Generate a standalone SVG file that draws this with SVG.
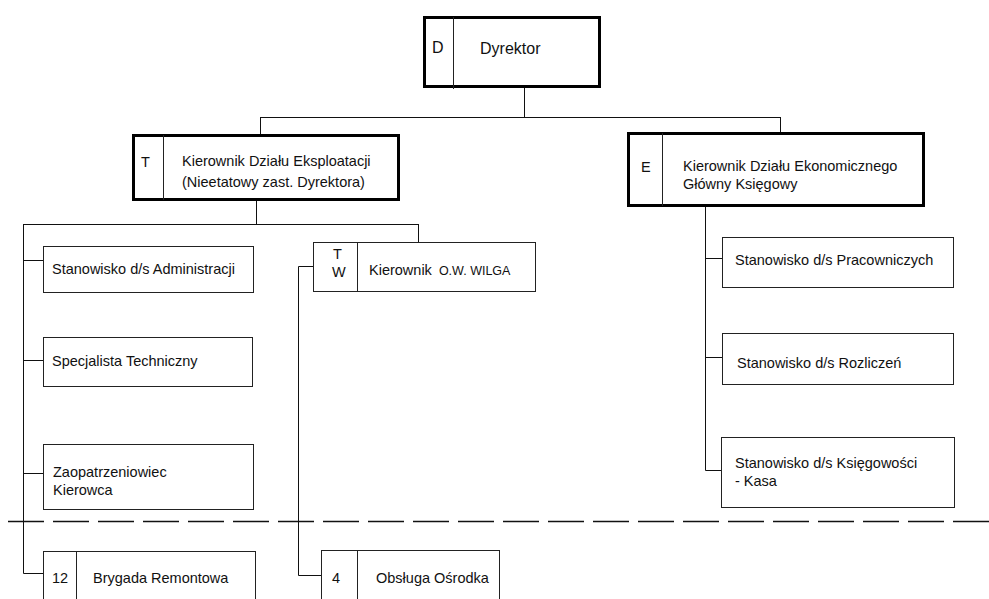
<svg xmlns="http://www.w3.org/2000/svg" width="989" height="599" viewBox="0 0 989 599">
<style>
text{font-family:"Liberation Sans",Arial,sans-serif;font-size:14.5px;fill:#111}
.big{font-size:16px}
.sm{font-size:12.5px}
.thick{fill:#fff;stroke:#000;stroke-width:3}
.thin{fill:#fff;stroke:#222;stroke-width:1}
.div{stroke:#222;stroke-width:1;fill:none}
.con{stroke:#111;stroke-width:1;fill:none}
.dash{stroke:#111;stroke-width:1.5;fill:none;stroke-dasharray:36 9}
</style>
<rect width="989" height="599" fill="#fff"/>
<g id="connectors">
<path class="con" d="M524.5,88 V117.5 M260,117.5 H780.5 M260.5,117 V134 M780.5,117 V132"/>
<path class="con" d="M256.5,201 V224.5 M23,224.5 H418.5 M418.5,224 V242"/>
<path class="con" d="M23.5,224 V573.5 H43 M23,260.5 H43 M23,360.5 H43 M23,473.5 H43"/>
<path class="con" d="M313,266.5 H298.5 V575.5 H321"/>
<path class="con" d="M705.5,207 V470.5 H721 M705,258.5 H722 M705,357.5 H722"/>
<path class="dash" d="M8,521.5 H989"/>
</g>
<g id="dyrektor">
<rect class="thick" x="424.5" y="17.5" width="175" height="69"/>
<path class="div" d="M453.5,17 V89"/>
<text class="big" x="432" y="53">D</text>
<text class="big" x="480" y="54">Dyrektor</text>
</g>
<g id="kier-eksploatacji">
<rect class="thick" x="133.5" y="135.5" width="265" height="64"/>
<path class="div" d="M163.5,135 V200"/>
<text x="141" y="167">T</text>
<text x="182" y="166">Kierownik Działu Eksploatacji</text>
<text x="182" y="187">(Nieetatowy zast. Dyrektora)</text>
</g>
<g id="kier-ekonomicznego">
<rect class="thick" x="628.5" y="133.5" width="295" height="72"/>
<path class="div" d="M662.5,133 V206"/>
<text x="641" y="172">E</text>
<text x="683" y="171">Kierownik Działu Ekonomicznego</text>
<text x="683" y="189">Główny Księgowy</text>
</g>
<g id="administracji">
<rect class="thin" x="43.5" y="246.5" width="210" height="46"/>
<text x="52" y="274">Stanowisko d/s Administracji</text>
</g>
<g id="specjalista">
<rect class="thin" x="43.5" y="337.5" width="209" height="49"/>
<text x="52" y="366">Specjalista Techniczny</text>
</g>
<g id="zaopatrzeniowiec">
<rect class="thin" x="43.5" y="444.5" width="210" height="65"/>
<text x="53" y="477">Zaopatrzeniowiec</text>
<text x="53" y="495">Kierowca</text>
</g>
<g id="brygada">
<rect class="thin" x="43.5" y="551.5" width="212" height="60"/>
<path class="div" d="M76.5,551 V599"/>
<text x="52" y="583">12</text>
<text x="93" y="583">Brygada Remontowa</text>
</g>
<g id="kier-wilga">
<rect class="thin" x="313.5" y="242.5" width="222" height="49"/>
<path class="div" d="M357.5,242 V292"/>
<text x="333" y="259">T</text>
<text x="332" y="277">W</text>
<text x="369" y="275">Kierownik <tspan class="sm" dx="3">O.W. WILGA</tspan></text>
</g>
<g id="obsluga">
<rect class="thin" x="321.5" y="550.5" width="178" height="60"/>
<path class="div" d="M357.5,550 V599"/>
<text x="332" y="583">4</text>
<text x="376" y="583">Obsługa Ośrodka</text>
</g>
<g id="pracowniczych">
<rect class="thin" x="722.5" y="237.5" width="231" height="50"/>
<text x="735" y="265">Stanowisko d/s Pracowniczych</text>
</g>
<g id="rozliczen">
<rect class="thin" x="722.5" y="333.5" width="231" height="51"/>
<text x="737" y="368">Stanowisko d/s Rozliczeń</text>
</g>
<g id="ksiegowosci">
<rect class="thin" x="721.5" y="437.5" width="233" height="70"/>
<text x="735" y="468">Stanowisko d/s Księgowości</text>
<text x="735" y="486">- Kasa</text>
</g>
</svg>
